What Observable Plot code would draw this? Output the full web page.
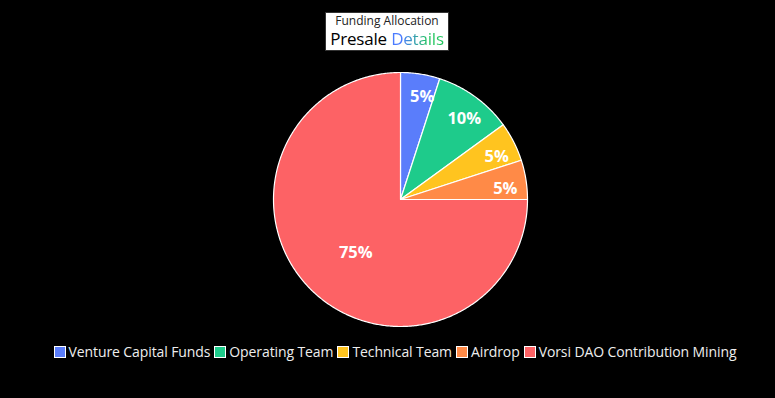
<!DOCTYPE html>
<html>
<head>
<meta charset="utf-8">
<script src="https://cdn.jsdelivr.net/npm/d3@7"></script>
<script src="https://cdn.jsdelivr.net/npm/@observablehq/plot@0.6"></script>
<style>
  html, body { margin: 0; padding: 0; background: #000; }
  body { width: 775px; height: 398px; position: relative; overflow: hidden; font-family: "Open Sans", "Noto Sans", sans-serif; }
  #chart { position: absolute; left: 0; top: 0; }
  #titlewrap { position: absolute; left: 287px; width: 200px; top: 12px; text-align: center; }
  #title { display: inline-block; white-space: nowrap; background: #fff; border: 1px solid #333; padding: 0 4px 1px 4px; text-align: center; }
  #title .t1 { font-size: 12px; line-height: 16px; color: #222; }
  #title .t2 { font-size: 17px; line-height: 20px; color: #000; letter-spacing: -0.2px; }
  #title .t2 span { background: linear-gradient(90deg, #4a7bff 20%, #22c55e 70%); -webkit-background-clip: text; background-clip: text; color: transparent; }
  #legend { position: absolute; left: 0; width: 790px; top: 342px; text-align: center; font-size: 14px; color: #eee; white-space: nowrap; letter-spacing: -0.1px; }
  #legend .item { display: inline-block; margin: 0 2px; }
  #legend .sw { display: inline-block; width: 10px; height: 10px; border: 1px solid #fff; margin-right: 3px; vertical-align: -1px; }
</style>
</head>
<body>
<div id="chart"></div>
<div id="titlewrap"><div id="title"><div class="t1">Funding Allocation</div><div class="t2">Presale <span>Details</span></div></div></div>
<div id="legend"></div>
<script>
const categories = ["Venture Capital Funds", "Operating Team", "Technical Team", "Airdrop", "Vorsi DAO Contribution Mining"];
const values = [5, 10, 5, 5, 75];
const colors = ["#5a7dfb", "#1ecb8b", "#ffc41f", "#ff8a47", "#fd6265"];

const W = 775, H = 398, cx = 400, cy = 199, R = 127;

const arcs = d3.pie().sort(null).value(d => d.value)(categories.map((c, i) => ({name: c, value: values[i]})));
const total = d3.sum(values);

// polygon points of each slice in unit coordinates (angle 0 at top, clockwise)
const poly = [];
arcs.forEach(a => {
  const n = Math.max(4, Math.ceil((a.endAngle - a.startAngle) / 0.01));
  poly.push({name: a.data.name, x: 0, y: 0});
  for (let k = 0; k <= n; k++) {
    const t = a.startAngle + (a.endAngle - a.startAngle) * k / n;
    poly.push({name: a.data.name, x: Math.sin(t), y: Math.cos(t)});
  }
  poly.push({name: a.data.name, x: 0, y: 0});
});

const labels = arcs.map(a => {
  const share = a.data.value / total;
  const r = 0.45 + 0.4 * (1 - share);
  const m = (a.startAngle + a.endAngle) / 2 + (0.06 - 0.2 * share);
  return {name: a.data.name, text: Math.round(share * 100) + "%", x: r * Math.sin(m), y: r * Math.cos(m)};
});

const chart = Plot.plot({
  width: W, height: H,
  margin: 0,
  style: {background: "transparent"},
  x: {domain: [-cx / R, (W - cx) / R], range: [0, W], axis: null},
  y: {domain: [-(H - cy) / R, cy / R], range: [H, 0], axis: null},
  color: {domain: categories, range: colors},
  marks: [
    Plot.line(poly, {x: "x", y: "y", z: "name", fill: "name", stroke: "#fff", strokeWidth: 1.2, curve: "linear"}),
    Plot.text(labels, {x: "x", y: "y", text: "text", fill: "#fff", fontSize: 16.5, fontWeight: "bold", fontFamily: "Open Sans, Noto Sans, sans-serif"})
  ]
});
document.getElementById("chart").appendChild(chart);

const legend = document.getElementById("legend");
categories.forEach((c, i) => {
  const it = document.createElement("span");
  it.className = "item";
  it.innerHTML = `<span class="sw" style="background:${colors[i]}"></span>${c}`;
  legend.appendChild(it);
});
</script>
</body>
</html>
